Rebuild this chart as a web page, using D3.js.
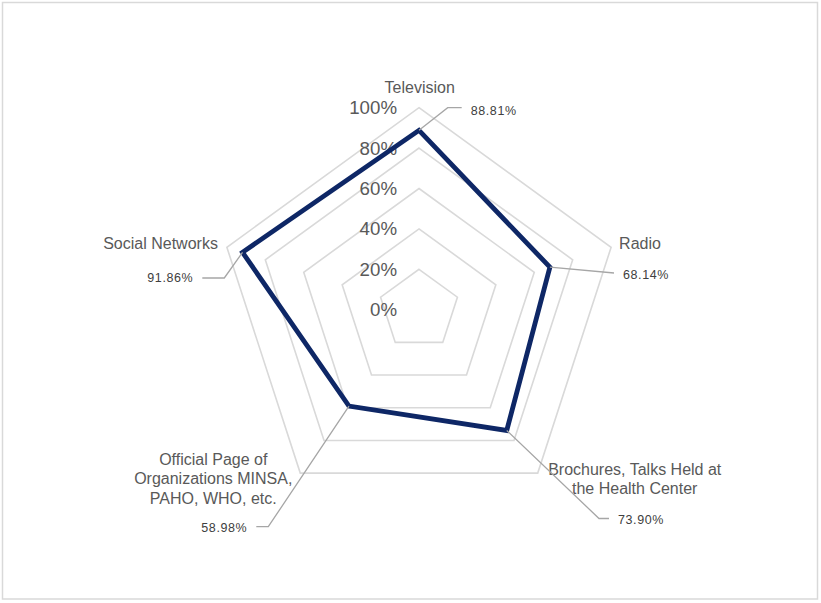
<!DOCTYPE html>
<html>
<head>
<meta charset="utf-8">
<script src="https://cdn.jsdelivr.net/npm/d3@7"></script>
<style>
  html, body { margin: 0; padding: 0; background: #fff; }
  svg { display: block; font-family: "Liberation Sans", Arial, sans-serif; }
</style>
</head>
<body>
<svg id="chart" width="821" height="603"></svg>
<script>
// ---- data ----
const categories = [
  "Television",
  "Radio",
  "Brochures, Talks Held at the Health Center",
  "Official Page of Organizations MINSA, PAHO, WHO, etc.",
  "Social Networks"
];
const categoryLines = [
  ["Television"],
  ["Radio"],
  ["Brochures, Talks Held at", "the Health Center"],
  ["Official Page of", "Organizations MINSA,", "PAHO, WHO, etc."],
  ["Social Networks"]
];
const values = [0.8881, 0.6814, 0.7390, 0.5898, 0.9186];
const valueLabels = ["88.81%", "68.14%", "73.90%", "58.98%", "91.86%"];
const tickValues = [0, 0.2, 0.4, 0.6, 0.8, 1.0];
const tickLabels = ["0%", "20%", "40%", "60%", "80%", "100%"];

// ---- layout ----
const svg = d3.select("#chart");
const cx = 419, cy = 309.7, R = 202;

svg.append("rect")
  .attr("x", 2.5).attr("y", 2.5).attr("width", 815).attr("height", 596.5)
  .attr("fill", "#fff").attr("stroke", "#d9d9d9").attr("stroke-width", 1.5);

const g = svg.append("g").attr("transform", `translate(${cx},${cy})`);

const r = d3.scaleLinear().domain([0, 1]).range([0, R]);
const angle = d3.scaleLinear().domain([0, categories.length]).range([0, 2 * Math.PI]);

const ringLine = d3.lineRadial()
  .angle((d, i) => angle(i))
  .radius(d => r(d))
  .curve(d3.curveLinearClosed);

// grid rings
g.selectAll("path.ring")
  .data(tickValues.filter(t => t > 0))
  .join("path")
  .attr("class", "ring")
  .attr("d", t => ringLine(categories.map(() => t)))
  .attr("fill", "none")
  .attr("stroke", "#d9d9d9")
  .attr("stroke-width", 1.6);

// tick labels
g.selectAll("text.tick")
  .data(tickValues)
  .join("text")
  .attr("class", "tick")
  .attr("x", -22)
  .attr("y", t => -r(t))
  .attr("dy", "0.35em")
  .attr("text-anchor", "end")
  .attr("fill", "#595959")
  .attr("font-size", 18.7)
  .text((t, i) => tickLabels[i]);

// data series
g.append("path")
  .datum(values)
  .attr("d", ringLine)
  .attr("fill", "none")
  .attr("stroke", "#0e2766")
  .attr("stroke-width", 4.8)
  .attr("stroke-linejoin", "miter");

// helper: point in chart coords
function pt(i, v) {
  const a = angle(i);
  return [cx + r(v) * Math.sin(a), cy - r(v) * Math.cos(a)];
}

// category label placement (offsets from outer vertex)
const catPlace = [
  { dx: 0.7, dy: -20, anchor: "middle" },
  { dx: 8, dy: -4, anchor: "start" },
  { dx: 97, dy: -4, anchor: "middle" },
  { dx: -87, dy: -14, anchor: "middle" },
  { dx: -9, dy: -4, anchor: "end" }
];
const lineH = 19.5;
categoryLines.forEach((lines, i) => {
  const [vx, vy] = pt(i, 1);
  const p = catPlace[i];
  const t = svg.append("text")
    .attr("text-anchor", p.anchor)
    .attr("fill", "#595959")
    .attr("font-size", 16);
  lines.forEach((ln, k) => {
    t.append("tspan")
      .attr("x", vx + p.dx)
      .attr("y", vy + p.dy + k * lineH)
      .attr("dy", "0.35em")
      .text(ln);
  });
});

// data labels with leader lines (label anchor offsets from center, elbow horizontal length)
const labelPlace = [
  { lx: 51.7, ly: -198.7, anchor: "start", elbow: 14, lineY: -3.3 },
  { lx: 204, ly: -34.7, anchor: "start", elbow: 0, lineY: -2 },
  { lx: 199, ly: 210.3, anchor: "start", elbow: 10, lineY: -1.5 },
  { lx: -171.7, ly: 218.3, anchor: "end", elbow: 12, lineY: -1.3 },
  { lx: -225.7, ly: -31.7, anchor: "end", elbow: 22, lineY: 0 }
];
values.forEach((v, i) => {
  const [px, py] = pt(i, v);
  const p = labelPlace[i];
  const lx = cx + p.lx, ly = cy + p.ly;
  const dir = p.anchor === "start" ? 1 : -1;
  const endX = lx - dir * 9;
  const lineY = ly + p.lineY;
  const elbowX = endX - dir * p.elbow;
  svg.append("path")
    .attr("d", d3.line()([[px, py], [elbowX, lineY], [endX, lineY]]))
    .attr("fill", "none")
    .attr("stroke", "#a6a6a6")
    .attr("stroke-width", 1.3);
  svg.append("text")
    .attr("x", lx)
    .attr("y", ly)
    .attr("dy", "0.35em")
    .attr("text-anchor", p.anchor)
    .attr("fill", "#404040")
    .attr("font-size", 12.5)
    .attr("letter-spacing", 0.6)
    .text(valueLabels[i]);
});
</script>
</body>
</html>
